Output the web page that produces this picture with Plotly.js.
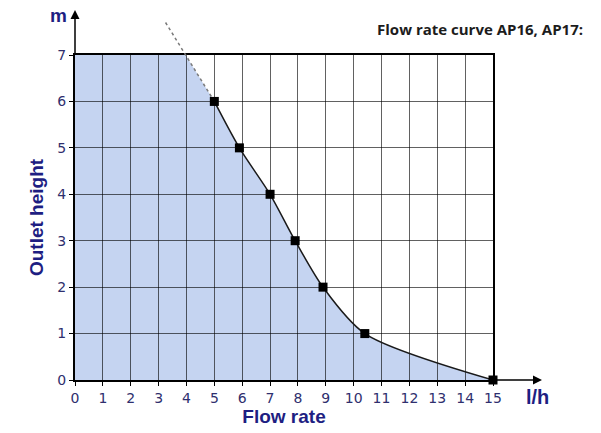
<!DOCTYPE html>
<html>
<head>
<meta charset="utf-8">
<script src="https://cdn.plot.ly/plotly-3.0.1.min.js"></script>
<style>html,body{margin:0;padding:0;background:#fff;}#chart{width:601px;height:433px;}</style>
</head>
<body>
<div id="chart"></div>
<script>
// Data
const flowRate = [5, 5.9, 7, 7.9, 8.9, 10.4, 15];      // l/h
const outletHeight = [6, 5, 4, 3, 2, 1, 0];          // m
const extFlow = [3.25, 5];                             // dotted extrapolation
const extHeight = [7.7, 6];
const xTicks = [0,1,2,3,4,5,6,7,8,9,10,11,12,13,14,15];
const yTicks = [0,1,2,3,4,5,6,7];
const xRange = [0, 15];
const yRange = [0, 7];

const W = 601, H = 433;
const mL = 75, mR = 108, mT = 10, mB = 53;
const plotW = W - mL - mR;
const plotH = H - mT - mB;
const mainTopPx = 55;
const mainFrac = (H - mB - mainTopPx) / plotH;
const yExtTop = yRange[1] / mainFrac;

const navy = '#1e1e82';
const tickNavy = '#2f2f6e';
const fillBlue = '#c5d4f1';

const traces = [
  // left part of the filled area (under the extrapolated line), clipped at the frame
  { x: [xRange[0]].concat(extFlow), y: [extHeight[0]].concat(extHeight), xaxis: 'x', yaxis: 'y',
    mode: 'lines', fill: 'tozeroy', fillcolor: fillBlue, line: { width: 0 }, hoverinfo: 'skip', showlegend: false },
  // right part of the filled area (under the measured curve)
  { x: flowRate, y: outletHeight, xaxis: 'x', yaxis: 'y', mode: 'lines', fill: 'tozeroy',
    fillcolor: fillBlue, line: { width: 0, shape: 'spline', smoothing: 0.8 }, hoverinfo: 'skip', showlegend: false },
  // grid subplot holder
  { x: [], y: [], xaxis: 'x2', yaxis: 'y2', mode: 'lines', hoverinfo: 'skip', showlegend: false },
  { x: extFlow, y: extHeight, xaxis: 'x3', yaxis: 'y3', mode: 'lines',
    line: { color: '#7a7a7a', width: 1.5, dash: 'dot' }, hoverinfo: 'skip', showlegend: false },
  { x: flowRate, y: outletHeight, xaxis: 'x3', yaxis: 'y3', mode: 'lines+markers', cliponaxis: false,
    line: { color: '#1a1a1a', width: 1.5, shape: 'spline', smoothing: 0.8 },
    marker: { symbol: 'square', size: 9, color: '#000' }, showlegend: false }
];

const tickFont = { family: 'DejaVu Sans', size: 14, color: tickNavy };
const titleFont = { family: 'Liberation Sans', size: 19, color: navy, weight: 'bold' };
const gridCol = 'rgba(0,0,0,0.62)';

const layout = {
  width: W, height: H,
  margin: { l: mL, r: mR, t: mT, b: mB },
  paper_bgcolor: '#fff', plot_bgcolor: 'rgba(0,0,0,0)',
  showlegend: false,
  title: { text: 'Flow rate curve AP16, AP17:', x: 583 / W, xanchor: 'right', xref: 'container',
           y: 1 - 30 / H, yanchor: 'middle', yref: 'container',
           font: { family: 'Open Sans', size: 15, color: '#1c1c1c', weight: 'bold' } },
  xaxis: { domain: [0, 1], range: xRange, anchor: 'y', tickvals: xTicks, showgrid: false, zeroline: false,
           showline: true, linecolor: '#000', linewidth: 2, mirror: true,
           ticks: 'outside', ticklen: 4, tickcolor: '#000', tickfont: tickFont,
           title: { text: 'Flow rate', font: titleFont, standoff: 4 } },
  yaxis: { domain: [0, mainFrac], range: yRange, anchor: 'x', tickvals: yTicks, showgrid: false, zeroline: false,
           showline: true, linecolor: '#000', linewidth: 2, mirror: true,
           ticks: 'outside', ticklen: 4, tickcolor: '#000', tickfont: tickFont,
           title: { text: 'Outlet height', font: titleFont, standoff: 9 } },
  xaxis2: { domain: [0, 1], range: xRange, anchor: 'y2', tickvals: xTicks, showgrid: true,
            gridcolor: gridCol, gridwidth: 1, zeroline: false, showline: false,
            showticklabels: false, ticks: '' },
  yaxis2: { domain: [0, mainFrac], range: yRange, anchor: 'x2', tickvals: yTicks, showgrid: true,
            gridcolor: gridCol, gridwidth: 1, zeroline: false, showline: false,
            showticklabels: false, ticks: '' },
  xaxis3: { domain: [0, 1], range: xRange, anchor: 'y3', visible: false },
  yaxis3: { domain: [0, 1], range: [0, yExtTop], anchor: 'x3', visible: false },
  annotations: [
    { xref: 'paper', yref: 'paper', x: 0, y: 1, ax: 0, ay: 45, axref: 'pixel', ayref: 'pixel',
      showarrow: true, arrowhead: 2, arrowsize: 1.2, arrowwidth: 1.5, arrowcolor: '#000', text: '' },
    { xref: 'paper', yref: 'paper', x: (542 - mL) / plotW, y: 0, ax: -49, ay: 0,
      axref: 'pixel', ayref: 'pixel',
      showarrow: true, arrowhead: 2, arrowsize: 1.2, arrowwidth: 1.5, arrowcolor: '#000', text: '' },
    { xref: 'paper', yref: 'paper', x: (58 - mL) / plotW, y: (H - mB - 16) / plotH,
      xanchor: 'center', yanchor: 'middle',
      text: '<b>m</b>', showarrow: false, font: { family: 'Liberation Sans', size: 19, color: navy } },
    { xref: 'paper', yref: 'paper', x: (537 - mL) / plotW, y: (H - mB - 397) / plotH,
      xanchor: 'center', yanchor: 'middle',
      text: '<b>l/h</b>', showarrow: false, font: { family: 'Liberation Sans', size: 20, color: navy } }
  ]
};

Plotly.newPlot('chart', traces, layout, { displayModeBar: false, staticPlot: true });
</script>
</body>
</html>
